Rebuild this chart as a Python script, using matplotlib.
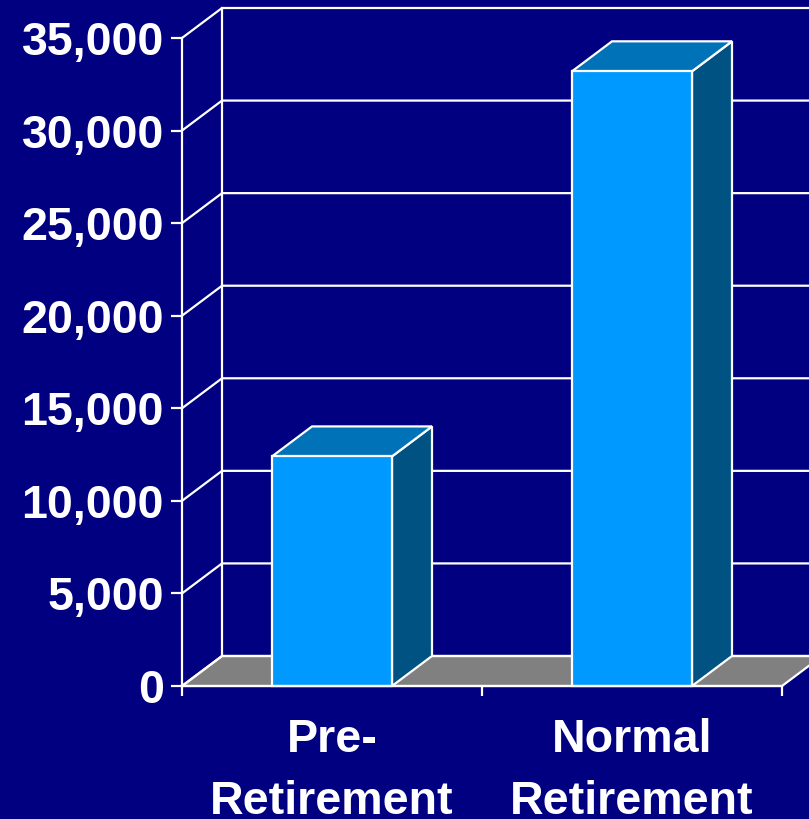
import matplotlib
matplotlib.use("Agg")
import matplotlib.pyplot as plt
from matplotlib.patches import Polygon

categories = ["Pre-\nRetirement", "Normal\nRetirement"]
values = [12400, 33200]
y_ticks = [0, 5000, 10000, 15000, 20000, 25000, 30000, 35000]
y_tick_labels = ["0", "5,000", "10,000", "15,000", "20,000", "25,000", "30,000", "35,000"]

BG = "#000080"
FRONT = "#0099FF"
TOP = "#0072B8"
SIDE = "#005282"
FLOOR = "#808080"
WHITE = "white"
FONT = "Liberation Sans"

W, H = 809, 819
fig = plt.figure(figsize=(W / 100, H / 100), dpi=100, facecolor=BG)
left_px, right_px, top_px, bottom_px = 182, 782, 38, 686
ax = fig.add_axes([left_px / W, (H - bottom_px) / H,
                   (right_px - left_px) / W, (bottom_px - top_px) / H])
ax.set_facecolor("none")

n = len(categories)
ymax = 35000
ax.set_xlim(0, n)
ax.set_ylim(0, ymax)

# 3D depth offset (in data units): 40 px right, 30 px up
ddx = 40 / ((right_px - left_px) / n)
ddy = 30 * ymax / (bottom_px - top_px)
lw = 1.6
far = n + 2  # walls extend beyond figure edge

# floor
ax.add_patch(Polygon([(0, 0), (n, 0), (n + ddx, ddy), (ddx, ddy)], closed=True,
                     facecolor=FLOOR, edgecolor=WHITE, lw=lw, clip_on=False, zorder=1))
# back wall grid + side wall obliques
for v in y_ticks:
    ax.plot([0, ddx, far], [v, v + ddy, v + ddy], color=WHITE, lw=lw,
            clip_on=False, zorder=2, solid_joinstyle="miter")
ax.plot([ddx, ddx], [ddy, ymax + ddy], color=WHITE, lw=lw, clip_on=False, zorder=2)

# bars
bw = 0.4
for i, v in enumerate(values):
    xc = i + 0.5
    x0, x1 = xc - bw / 2, xc + bw / 2
    ax.add_patch(Polygon([(x1, 0), (x1 + ddx, ddy), (x1 + ddx, v + ddy), (x1, v)],
                         closed=True, facecolor=SIDE, edgecolor=WHITE, lw=lw,
                         clip_on=False, zorder=3))
    ax.add_patch(Polygon([(x0, v), (x1, v), (x1 + ddx, v + ddy), (x0 + ddx, v + ddy)],
                         closed=True, facecolor=TOP, edgecolor=WHITE, lw=lw,
                         clip_on=False, zorder=3))
    ax.add_patch(Polygon([(x0, 0), (x1, 0), (x1, v), (x0, v)], closed=True,
                         facecolor=FRONT, edgecolor=WHITE, lw=lw,
                         clip_on=False, zorder=4))

for s in ["top", "right"]:
    ax.spines[s].set_visible(False)
for s in ["left", "bottom"]:
    ax.spines[s].set_color(WHITE)
    ax.spines[s].set_linewidth(lw)
    ax.spines[s].set_zorder(5)

ax.set_yticks(y_ticks)
ax.set_yticklabels(y_tick_labels, fontsize=33.6, fontweight="bold",
                   color=WHITE, family=FONT)
ax.tick_params(axis="y", direction="out", length=8, width=lw, color=WHITE, pad=5)

ax.set_xticks(range(n + 1))
ax.set_xticklabels([""] * (n + 1))
ax.tick_params(axis="x", which="major", direction="out", length=7.5, width=lw, color=WHITE)
ax.set_xticks([i + 0.5 for i in range(n)], minor=True)
ax.set_xticklabels(categories, minor=True, fontsize=33.6, fontweight="bold",
                   color=WHITE, family=FONT, linespacing=1.52)
ax.tick_params(axis="x", which="minor", length=0, pad=23)

fig.savefig("out.png", dpi=100, facecolor=BG)
